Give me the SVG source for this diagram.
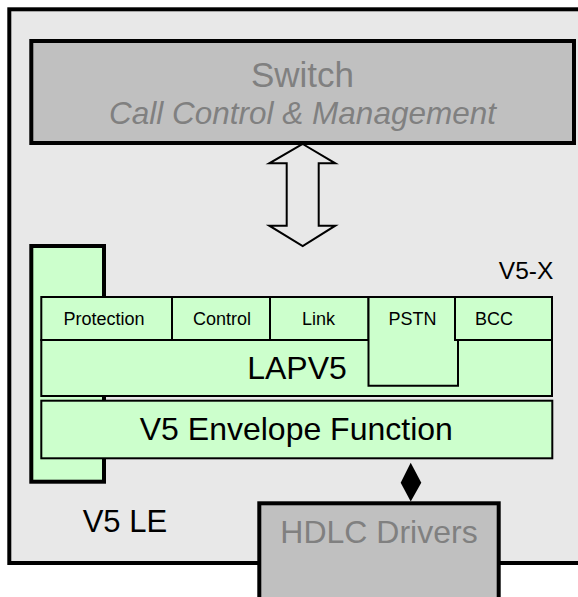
<svg xmlns="http://www.w3.org/2000/svg" width="578" height="597" viewBox="0 0 578 597">
<style>
text{font-family:"Liberation Sans",Arial,sans-serif}
.thick{stroke:#000;stroke-width:4}
.gray{fill:#c0c0c0}
.green{fill:#ccffcc;stroke:#000;stroke-width:2}
.gtxt{fill:#808080}
.btxt{fill:#000}
.tab{font-size:18px}
.big{font-size:32px}
</style>
<rect x="0" y="0" width="578" height="597" fill="#ffffff"/>
<g id="v5le">
<rect x="9.3" y="9.3" width="600" height="553.7" fill="#e8e8e8" class="thick"/>
<text x="82.7" y="532" class="btxt" font-size="31">V5 LE</text>
</g>
<g id="switch">
<rect x="31.3" y="41" width="542.7" height="102" class="gray thick"/>
<text x="302.5" y="87.3" text-anchor="middle" class="gtxt" font-size="35">Switch</text>
<text x="302.5" y="123.7" text-anchor="middle" class="gtxt" font-size="31.5" font-style="italic">Call Control &amp; Management</text>
</g>
<g id="connectors">
<polygon points="302.7,144 335.3,163.3 318.7,163.3 318.7,225.7 335.3,225.7 302.7,246 269.3,225.7 286.7,225.7 286.7,163.3 269.3,163.3" fill="#e8e8e8" stroke="#000" stroke-width="2" stroke-linejoin="miter"/>
<polygon points="410.7,462.7 421.3,482.7 410.7,501.5 400.7,482.7" fill="#000"/>
</g>
<g id="v5x-side">
<rect x="31.3" y="246" width="72.7" height="235.7" fill="#ccffcc" class="thick"/>
</g>
<g id="v5x-label">
<text x="553.3" y="279.3" text-anchor="end" class="btxt" font-size="24.5">V5-X</text>
</g>
<g id="lapv5">
<rect x="41.3" y="340" width="510.7" height="56" class="green"/>
<text x="297" y="378.7" text-anchor="middle" class="btxt big">LAPV5</text>
</g>
<g id="protection">
<rect x="41.3" y="297" width="130.7" height="43" class="green"/>
<text x="104" y="325" text-anchor="middle" class="btxt tab">Protection</text>
</g>
<g id="control">
<rect x="172" y="297" width="98" height="43" class="green"/>
<text x="222" y="325" text-anchor="middle" class="btxt tab">Control</text>
</g>
<g id="link">
<rect x="270" y="297" width="98.5" height="43" class="green"/>
<text x="318.5" y="325" text-anchor="middle" class="btxt tab">Link</text>
</g>
<g id="bcc">
<rect x="455" y="297" width="97" height="43" class="green"/>
<text x="494" y="325" text-anchor="middle" class="btxt tab">BCC</text>
</g>
<g id="pstn">
<path d="M368.5,297 H455 V340 H458 V385.7 H368.5 Z" class="green"/>
<text x="412.5" y="325" text-anchor="middle" class="btxt tab">PSTN</text>
</g>
<g id="envelope">
<rect x="41.3" y="400.7" width="511" height="57.6" class="green"/>
<text x="296.3" y="440" text-anchor="middle" class="btxt big">V5 Envelope Function</text>
</g>
<g id="hdlc">
<rect x="259.3" y="503.3" width="239.4" height="120" class="gray thick"/>
<text x="379" y="543.3" text-anchor="middle" class="gtxt big">HDLC Drivers</text>
</g>
</svg>
